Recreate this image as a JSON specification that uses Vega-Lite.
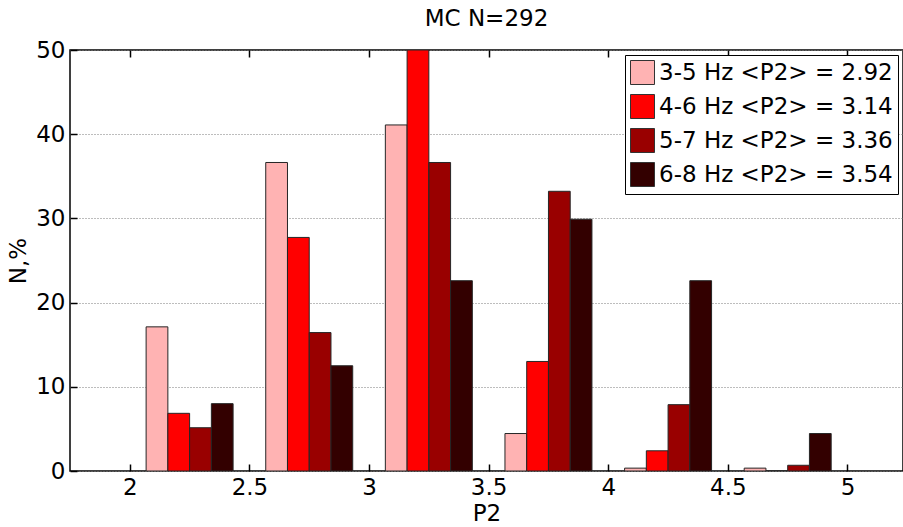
{
  "$schema": "https://vega.github.io/schema/vega-lite/v6.json",
  "autosize": "none",
  "padding": {"left": 70, "top": 50, "right": 0, "bottom": 56},
  "width": 833,
  "height": 421,
  "background": "white",
  "view": {"stroke": "black", "strokeWidth": 1.5},
  "config": {
    "font": "DejaVu Sans",
    "axis": {
      "labelFont": "DejaVu Sans",
      "titleFont": "DejaVu Sans",
      "labelFontSize": 23,
      "titleFontSize": 23,
      "titleFontWeight": "normal",
      "labelColor": "black",
      "titleColor": "black",
      "domain": false,
      "tickColor": "black",
      "tickWidth": 1.5
    },
    "legend": {
      "labelFont": "DejaVu Sans",
      "labelFontSize": 23,
      "labelColor": "black"
    }
  },
  "title": {
    "text": "MC N=292",
    "font": "DejaVu Sans",
    "fontSize": 23,
    "fontWeight": "normal",
    "color": "black",
    "anchor": "middle",
    "offset": 8
  },
  "data": {
    "values": [
      {"p2": 2.25, "band": "3-5 Hz <P2> = 2.92", "pct": 17.12},
      {"p2": 2.75, "band": "3-5 Hz <P2> = 2.92", "pct": 36.64},
      {"p2": 3.25, "band": "3-5 Hz <P2> = 2.92", "pct": 41.10},
      {"p2": 3.75, "band": "3-5 Hz <P2> = 2.92", "pct": 4.45},
      {"p2": 4.25, "band": "3-5 Hz <P2> = 2.92", "pct": 0.34},
      {"p2": 4.75, "band": "3-5 Hz <P2> = 2.92", "pct": 0.34},
      {"p2": 2.25, "band": "4-6 Hz <P2> = 3.14", "pct": 6.85},
      {"p2": 2.75, "band": "4-6 Hz <P2> = 3.14", "pct": 27.74},
      {"p2": 3.25, "band": "4-6 Hz <P2> = 3.14", "pct": 50.0},
      {"p2": 3.75, "band": "4-6 Hz <P2> = 3.14", "pct": 13.01},
      {"p2": 4.25, "band": "4-6 Hz <P2> = 3.14", "pct": 2.40},
      {"p2": 4.75, "band": "4-6 Hz <P2> = 3.14", "pct": 0},
      {"p2": 2.25, "band": "5-7 Hz <P2> = 3.36", "pct": 5.14},
      {"p2": 2.75, "band": "5-7 Hz <P2> = 3.36", "pct": 16.44},
      {"p2": 3.25, "band": "5-7 Hz <P2> = 3.36", "pct": 36.64},
      {"p2": 3.75, "band": "5-7 Hz <P2> = 3.36", "pct": 33.22},
      {"p2": 4.25, "band": "5-7 Hz <P2> = 3.36", "pct": 7.88},
      {"p2": 4.75, "band": "5-7 Hz <P2> = 3.36", "pct": 0.68},
      {"p2": 2.25, "band": "6-8 Hz <P2> = 3.54", "pct": 8.0},
      {"p2": 2.75, "band": "6-8 Hz <P2> = 3.54", "pct": 12.5},
      {"p2": 3.25, "band": "6-8 Hz <P2> = 3.54", "pct": 22.6},
      {"p2": 3.75, "band": "6-8 Hz <P2> = 3.54", "pct": 29.9},
      {"p2": 4.25, "band": "6-8 Hz <P2> = 3.54", "pct": 22.6},
      {"p2": 4.75, "band": "6-8 Hz <P2> = 3.54", "pct": 4.45}
    ]
  },
  "transform": [
    {"calculate": "indexof(['3-5 Hz <P2> = 2.92','4-6 Hz <P2> = 3.14','5-7 Hz <P2> = 3.36','6-8 Hz <P2> = 3.54'], datum.band)", "as": "slot"},
    {"calculate": "datum.p2 + (datum.slot - 2) * 0.0909", "as": "lo"},
    {"calculate": "datum.lo + 0.0909", "as": "hi"}
  ],
  "layer": [
    {
      "mark": {"type": "bar", "stroke": "#262626", "strokeWidth": 1, "clip": true},
      "encoding": {
        "x": {
          "field": "lo",
          "type": "quantitative",
          "scale": {"domain": [1.75, 5.232], "nice": false, "zero": false},
          "axis": {
            "values": [2, 2.5, 3, 3.5, 4, 4.5, 5],
            "format": "~g",
            "grid": false,
            "ticks": false,
            "title": "P2",
            "labelPadding": 5,
            "titlePadding": 3
          }
        },
        "x2": {"field": "hi"},
        "y": {
          "field": "pct",
          "type": "quantitative",
          "scale": {"domain": [0, 50], "nice": false},
          "axis": {
            "values": [0, 10, 20, 30, 40, 50],
            "title": "N,%",
            "grid": true,
            "ticks": false,
            "gridColor": "#7a7a7a",
            "gridDash": [1, 2],
            "gridWidth": 1,
            "labelPadding": 5,
            "titlePadding": 5
          }
        },
        "y2": {"datum": 0},
        "color": {
          "field": "band",
          "type": "nominal",
          "scale": {
            "domain": ["3-5 Hz <P2> = 2.92", "4-6 Hz <P2> = 3.14", "5-7 Hz <P2> = 3.36", "6-8 Hz <P2> = 3.54"],
            "range": ["#FFB3B3", "#FF0000", "#990000", "#330000"]
          },
          "legend": {
            "title": null,
            "orient": "none",
            "legendX": 555,
            "legendY": 5,
            "symbolType": "square",
            "symbolSize": 576,
            "symbolStrokeColor": "#333333",
            "symbolStrokeWidth": 1,
            "symbolOpacity": 1,
            "labelFontSize": 23,
            "labelLimit": 400,
            "labelOffset": 4,
            "rowPadding": 5,
            "padding": 5,
            "strokeColor": "black",
            "fillColor": "white"
          }
        }
      }
    },
    {
      "mark": {"type": "point", "opacity": 0},
      "encoding": {
        "x": {
          "field": "lo",
          "type": "quantitative",
          "axis": {
            "orient": "top",
            "offset": -7,
            "tickSize": 7,
            "values": [2, 2.5, 3, 3.5, 4, 4.5, 5],
            "labels": false,
            "grid": false,
            "title": null
          }
        },
        "y": {
          "field": "pct",
          "type": "quantitative",
          "axis": {
            "orient": "left",
            "offset": -7,
            "tickSize": 7,
            "values": [0, 10, 20, 30, 40, 50],
            "labels": false,
            "grid": false,
            "title": null
          }
        }
      }
    },
    {
      "mark": {"type": "point", "opacity": 0},
      "encoding": {
        "x": {
          "field": "lo",
          "type": "quantitative",
          "axis": {
            "orient": "bottom",
            "offset": -7,
            "tickSize": 7,
            "values": [2, 2.5, 3, 3.5, 4, 4.5, 5],
            "labels": false,
            "grid": false,
            "title": null
          }
        }
      }
    }
  ],
  "resolve": {"axis": {"x": "independent", "y": "independent"}}
}
